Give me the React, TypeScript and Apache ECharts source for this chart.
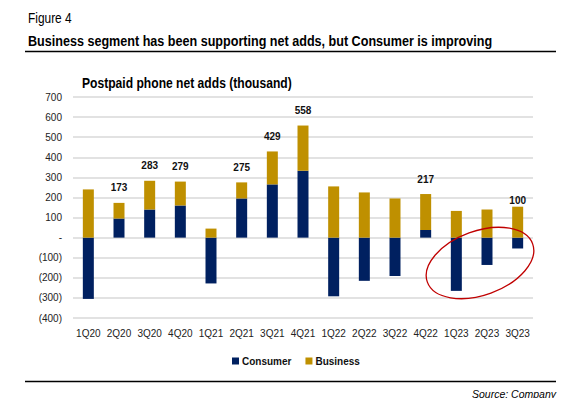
import React, { useEffect, useRef } from "react";
import * as echarts from "echarts";

const categories = ["1Q20","2Q20","3Q20","4Q20","1Q21","2Q21","3Q21","4Q21","1Q22","2Q22","3Q22","4Q22","1Q23","2Q23","3Q23"];
const consumer = [-305, 95, 140, 160, -228, 195, 265, 333, -292, -215, -191, 38, -265, -136, -54];
const business = [240, 78, 143, 119, 45, 80, 164, 225, 255, 225, 195, 179, 133, 140, 154];
const totalLabels: (number | null)[] = [null, 173, 283, 279, null, 275, 429, 558, null, null, null, 217, null, null, 100];
const yTicks = [-400, -300, -200, -100, 0, 100, 200, 300, 400, 500, 600, 700];

const FONT = "'Liberation Sans Narrow', 'Arial Narrow', 'Liberation Sans', Arial, sans-serif";
const NAVY = "#002060";
const GOLD = "#BF9000";

function fmtY(v: number): string {
  if (v === 0) return "-";
  if (v < 0) return "(" + Math.abs(v) + ")";
  return String(v);
}

export default function App() {
  const ref = useRef<HTMLDivElement>(null);
  useEffect(() => {
    if (!ref.current) return;
    const chart = echarts.init(ref.current, null, { renderer: "svg" });
    const businessData = business.map((v, i) => {
      const t = totalLabels[i];
      if (t === null) return { value: v, label: { show: false } };
      const overTop = i === categories.length - 1;
      return {
        value: v,
        label: {
          show: true,
          position: "top",
          distance: overTop ? 1 : 10,
          formatter: () => String(t),
        },
      };
    });
    chart.setOption({
      animation: false,
      textStyle: { fontFamily: FONT },
      grid: { left: 73, right: 40, top: 97, bottom: 80, containLabel: false },
      xAxis: {
        type: "category",
        data: categories,
        axisLine: { show: false },
        axisTick: { show: false },
        axisLabel: { color: "#222", fontSize: 10, fontFamily: FONT, margin: 10, interval: 0 },
      },
      yAxis: {
        type: "value",
        min: yTicks[0],
        max: yTicks[yTicks.length - 1],
        interval: 100,
        axisLine: { show: false },
        axisTick: { show: false },
        splitLine: { lineStyle: { color: "#D9D9D9", width: 1.5 } },
        axisLabel: { color: "#222", fontSize: 10, fontFamily: FONT, margin: 11, formatter: fmtY },
      },
      legend: {
        data: ["Consumer", "Business"],
        left: 227,
        top: 351,
        icon: "rect",
        itemWidth: 7,
        itemHeight: 7,
        itemGap: 14,
        textStyle: { fontSize: 10, fontWeight: "bold", color: "#111", fontFamily: FONT, padding: [0, 0, 0, -2] },
      },
      series: [
        {
          name: "Consumer",
          type: "bar",
          stack: "total",
          barWidth: 11,
          itemStyle: { color: NAVY },
          data: consumer,
        },
        {
          name: "Business",
          type: "bar",
          stack: "total",
          barWidth: 11,
          itemStyle: { color: GOLD },
          label: { color: "#111", fontWeight: "bold", fontSize: 10, fontFamily: FONT },
          data: businessData,
        },
      ],
      graphic: [
        { type: "text", x: 28, y: 11, scaleX: 0.85, style: { text: "Figure 4", fontSize: 14, fontFamily: FONT, fill: "#000" } },
        { type: "text", x: 28, y: 34, scaleX: 0.9, style: { text: "Business segment has been supporting net adds, but Consumer is improving", fontSize: 14, fontWeight: "bold", fontFamily: FONT, fill: "#000" } },
        { type: "line", shape: { x1: 25, y1: 51.5, x2: 556, y2: 51.5 }, style: { stroke: "#000", lineWidth: 1.5 } },
        { type: "text", x: 82, y: 76, scaleX: 0.865, style: { text: "Postpaid phone net adds (thousand)", fontSize: 14, fontWeight: "bold", fontFamily: FONT, fill: "#000" } },
        { type: "line", shape: { x1: 25, y1: 381.5, x2: 556, y2: 381.5 }, style: { stroke: "#000", lineWidth: 1.5 } },
        { type: "text", right: 17, top: 388, style: { text: "Source: Company", fontSize: 10.5, fontStyle: "italic", fontFamily: FONT, fill: "#000" } },
        {
          type: "ellipse",
          x: 480,
          y: 263,
          rotation: (20 * Math.PI) / 180,
          shape: { cx: 0, cy: 0, rx: 56, ry: 32 },
          style: { fill: "none", stroke: "#C00000", lineWidth: 1.3 },
          z: 10,
        },
      ],
    });
    return () => chart.dispose();
  }, []);
  return <div ref={ref} style={{ position: "absolute", left: 0, top: 0, width: 573, height: 398, background: "#fff" }} />;
}
